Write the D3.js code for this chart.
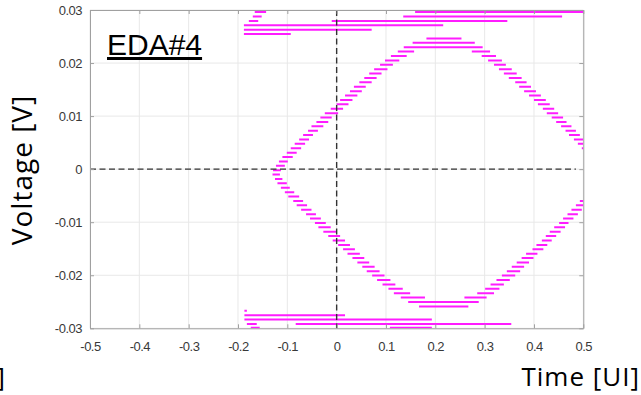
<!DOCTYPE html>
<html lang="en">
<head>
<meta charset="UTF-8">
<title>EDA#4 eye diagram</title>
<script src="https://cdn.jsdelivr.net/npm/d3@7"></script>
<style>
  body { margin: 0; background: #fff; }
  svg text { font-family: "Liberation Sans", Arial, sans-serif; }
</style>
</head>
<body>
<div id="chart"></div>
<script>
// axis ticks
var xTicks = [-0.5, -0.4, -0.3, -0.2, -0.1, 0, 0.1, 0.2, 0.3, 0.4, 0.5];
var xTickLabels = ["-0.5", "-0.4", "-0.3", "-0.2", "-0.1", "0", "0.1", "0.2", "0.3", "0.4", "0.5"];
var yTicks = [-0.03, -0.02, -0.01, 0, 0.01, 0.02, 0.03];
var yTickLabels = ["-0.03", "-0.02", "-0.01", "0", "0.01", "0.02", "0.03"];

// eye traces, each entry: [time start, time end, voltage]
var upperRise = [
  [-0.129, -0.113, -0.0002], [-0.123, -0.105, 0.00063], [-0.117, -0.099, 0.00146],
  [-0.110, -0.089, 0.00228], [-0.101, -0.081, 0.00311], [-0.093, -0.072, 0.00394],
  [-0.085, -0.064, 0.00477], [-0.076, -0.056, 0.00560], [-0.068, -0.048, 0.00642],
  [-0.058, -0.038, 0.00725], [-0.051, -0.027, 0.00808], [-0.041, -0.017, 0.00891],
  [-0.033, -0.010, 0.00974], [-0.024, 0.003, 0.01056], [-0.012, 0.013, 0.01139],
  [0.000, 0.024, 0.01222], [0.007, 0.032, 0.01305], [0.017, 0.042, 0.01388],
  [0.027, 0.051, 0.01470], [0.035, 0.059, 0.01553], [0.046, 0.071, 0.01636],
  [0.056, 0.081, 0.01719], [0.066, 0.091, 0.01802], [0.076, 0.103, 0.01884],
  [0.088, 0.114, 0.01967], [0.098, 0.127, 0.02050], [0.110, 0.142, 0.02133],
  [0.124, 0.157, 0.02216], [0.136, 0.296, 0.02298], [0.154, 0.280, 0.02381],
  [0.182, 0.253, 0.02464]
];
var upperFall = [
  [0.274, 0.311, 0.02216], [0.294, 0.323, 0.02133], [0.307, 0.335, 0.02050],
  [0.319, 0.343, 0.01967], [0.329, 0.355, 0.01884], [0.339, 0.365, 0.01802],
  [0.349, 0.375, 0.01719], [0.362, 0.385, 0.01636], [0.370, 0.394, 0.01553],
  [0.380, 0.404, 0.01470], [0.390, 0.414, 0.01388], [0.400, 0.424, 0.01305],
  [0.408, 0.432, 0.01222], [0.418, 0.441, 0.01139], [0.426, 0.449, 0.01056],
  [0.436, 0.459, 0.00974], [0.445, 0.466, 0.00891], [0.455, 0.476, 0.00808],
  [0.464, 0.485, 0.00725], [0.471, 0.493, 0.00642], [0.481, 0.500, 0.00560],
  [0.489, 0.500, 0.00477], [0.497, 0.500, 0.00394]
];
var lowerFall = [
  [-0.130, -0.115, -0.00103], [-0.125, -0.110, -0.00186], [-0.120, -0.101, -0.00268],
  [-0.113, -0.095, -0.00351], [-0.105, -0.086, -0.00434], [-0.098, -0.076, -0.00517],
  [-0.088, -0.068, -0.00600], [-0.081, -0.060, -0.00682], [-0.072, -0.051, -0.00765],
  [-0.062, -0.042, -0.00848], [-0.054, -0.032, -0.00931], [-0.044, -0.022, -0.01014],
  [-0.037, -0.012, -0.01096], [-0.027, 0.000, -0.01179], [-0.017, 0.007, -0.01262],
  [-0.008, 0.017, -0.01345], [0.003, 0.027, -0.01428], [0.013, 0.037, -0.01510],
  [0.022, 0.047, -0.01593], [0.032, 0.056, -0.01676], [0.042, 0.066, -0.01759],
  [0.052, 0.077, -0.01842], [0.061, 0.087, -0.01924], [0.072, 0.097, -0.02007],
  [0.082, 0.109, -0.02090], [0.093, 0.119, -0.02173], [0.105, 0.134, -0.02256],
  [0.116, 0.149, -0.02338], [0.130, 0.179, -0.02421], [0.145, 0.288, -0.02504],
  [0.167, 0.267, -0.02587]
];
var lowerRise = [
  [0.259, 0.304, -0.02421], [0.285, 0.319, -0.02338], [0.301, 0.330, -0.02256],
  [0.312, 0.339, -0.02173], [0.324, 0.351, -0.02090], [0.335, 0.362, -0.02007],
  [0.345, 0.372, -0.01924], [0.355, 0.380, -0.01842], [0.365, 0.390, -0.01759],
  [0.375, 0.399, -0.01676], [0.384, 0.407, -0.01593], [0.397, 0.419, -0.01510],
  [0.405, 0.427, -0.01428], [0.416, 0.436, -0.01345], [0.424, 0.445, -0.01262],
  [0.432, 0.454, -0.01179], [0.441, 0.463, -0.01096], [0.451, 0.470, -0.01014],
  [0.459, 0.480, -0.00931], [0.468, 0.489, -0.00848], [0.476, 0.497, -0.00765],
  [0.485, 0.500, -0.00682], [0.493, 0.500, -0.00600]
];
var topRails = [
  [-0.166, -0.143, 0.02961], [-0.170, -0.152, 0.02878], [-0.178, -0.159, 0.02795],
  [-0.188, 0.216, 0.02712], [-0.188, 0.071, 0.02630], [-0.188, -0.093, 0.02547],
  [0.159, 0.500, 0.02961], [0.135, 0.457, 0.02878], [-0.010, 0.346, 0.02795]
];
var bottomRails = [
  [-0.187, -0.182, -0.02670], [-0.187, 0.017, -0.02752], [-0.187, 0.193, -0.02835],
  [-0.083, 0.354, -0.02918], [-0.182, -0.162, -0.02918], [-0.174, -0.156, -0.0299],
  [0.108, 0.193, -0.0299]
];

var W = 641, H = 395;
var margin = {top: 10, right: 57.7, bottom: 66.7, left: 90};
var width = W - margin.left - margin.right,
    height = H - margin.top - margin.bottom;

var svg = d3.select("#chart").append("svg")
    .attr("width", W)
    .attr("height", H);

var g = svg.append("g")
    .attr("transform", "translate(" + margin.left + "," + margin.top + ")");

var x = d3.scaleLinear().domain([-0.5, 0.5]).range([0, width]);
var y = d3.scaleLinear().domain([-0.03, 0.03]).range([height, 0]);

g.append("clipPath").attr("id", "plotclip")
  .append("rect").attr("width", width).attr("height", height);

// grid
g.append("g").selectAll("line").data(xTicks).enter().append("line")
    .attr("x1", function(d) { return x(d); }).attr("x2", function(d) { return x(d); })
    .attr("y1", 0).attr("y2", height)
    .attr("stroke", "#e8e8e8").attr("stroke-width", 1);
g.append("g").selectAll("line").data(yTicks).enter().append("line")
    .attr("x1", 0).attr("x2", width)
    .attr("y1", function(d) { return y(d); }).attr("y2", function(d) { return y(d); })
    .attr("stroke", "#e8e8e8").attr("stroke-width", 1);

// traces
var traces = upperRise.concat(upperFall, lowerFall, lowerRise, topRails, bottomRails);
g.append("g").attr("clip-path", "url(#plotclip)")
  .selectAll("line").data(traces).enter().append("line")
    .attr("x1", function(d) { return x(d[0]); })
    .attr("x2", function(d) { return x(d[1]); })
    .attr("y1", function(d) { return y(d[2]); })
    .attr("y2", function(d) { return y(d[2]); })
    .attr("stroke", "#ff1cff")
    .attr("stroke-width", 2);

// zero cross-hair lines
g.append("line")
    .attr("x1", x(-0.5)).attr("x2", x(0.485))
    .attr("y1", y(0)).attr("y2", y(0))
    .attr("stroke", "#333").attr("stroke-width", 1.4)
    .attr("stroke-dasharray", "6,3.5");
g.append("line")
    .attr("x1", x(0)).attr("x2", x(0))
    .attr("y1", y(0.03)).attr("y2", y(-0.03))
    .attr("stroke", "#333").attr("stroke-width", 1.4)
    .attr("stroke-dasharray", "6,3.5");

// axes: box with inward ticks
var xAxis = d3.axisBottom(x).tickValues(xTicks)
    .tickFormat(function(d, i) { return xTickLabels[i]; })
    .tickSizeInner(-4).tickSizeOuter(0).tickPadding(13);
var yAxis = d3.axisLeft(y).tickValues(yTicks)
    .tickFormat(function(d, i) { return yTickLabels[i]; })
    .tickSizeInner(-4).tickSizeOuter(0).tickPadding(8);

var ax = g.append("g").attr("transform", "translate(0," + height + ")").call(xAxis);
var ay = g.append("g").call(yAxis);
var axTop = g.append("g").call(d3.axisTop(x).tickValues(xTicks).tickFormat("").tickSizeInner(-4).tickSizeOuter(0));
var ayRight = g.append("g").attr("transform", "translate(" + width + ",0)")
    .call(d3.axisRight(y).tickValues(yTicks).tickFormat("").tickSizeInner(-4).tickSizeOuter(0));

[ax, ay, axTop, ayRight].forEach(function(a) {
  a.select(".domain").attr("stroke", "#a0a0a0").attr("stroke-width", 1);
  a.selectAll(".tick line").attr("stroke", "#a0a0a0");
  a.selectAll(".tick text")
    .attr("fill", "#383838")
    .style("font-family", "'Liberation Sans', Arial, sans-serif")
    .style("font-size", "13px")
    .style("letter-spacing", "-0.5px");
});
ay.selectAll(".tick text").attr("dy", "0.35em");

// labels
svg.append("text")
    .attr("transform", "translate(32,170) rotate(-90)")
    .attr("text-anchor", "middle")
    .style("font-family", "'Open Sans', 'Liberation Sans', sans-serif")
    .style("font-size", "28px")
    .style("letter-spacing", "1px")
    .attr("fill", "#000")
    .text("Voltage [V]");

svg.append("text")
    .attr("x", 640).attr("y", 386)
    .attr("text-anchor", "end")
    .style("font-family", "'Open Sans', 'Liberation Sans', sans-serif")
    .style("font-size", "26px")
    .style("letter-spacing", "1px")
    .attr("fill", "#000")
    .text("Time [UI]");

// label of the neighbouring panel, cut at the left edge
svg.append("text")
    .attr("x", 5).attr("y", 386)
    .attr("text-anchor", "end")
    .style("font-family", "'Open Sans', 'Liberation Sans', sans-serif")
    .style("font-size", "26px")
    .attr("fill", "#000")
    .text("Time [UI]");

svg.append("text")
    .attr("x", 107).attr("y", 55)
    .style("font-family", "'Liberation Sans', Arial, sans-serif")
    .style("font-size", "30px")
    .style("text-decoration", "underline")
    .attr("fill", "#000")
    .text("EDA#4");
</script>
</body>
</html>
